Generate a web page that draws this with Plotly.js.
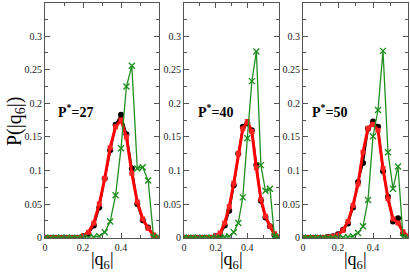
<!DOCTYPE html>
<html><head><meta charset="utf-8">
<script src="https://cdn.plot.ly/plotly-3.0.1.min.js"></script>
<style>html,body{margin:0;padding:0;background:#fff;}#chart{width:410px;height:273px;}</style>
</head><body><div id="chart"></div>
<script>
const q6 = [0, 0.0286, 0.0571, 0.0857, 0.1143, 0.1429, 0.1714, 0.2, 0.2286, 0.2571, 0.2857, 0.3143, 0.3429, 0.3714, 0.4, 0.4286, 0.4571, 0.4857, 0.5143, 0.5429, 0.5714, 0.6];

const black27 = [0,0,0,0,0,0,0,0.002,0.006,0.018,0.045,0.088,0.130,0.168,0.183,0.154,0.103,0.050,0.026,0.015,0.003,0];
const red27   = [0,0,0,0,0,0,0,0.0025,0.008,0.022,0.050,0.088,0.134,0.165,0.175,0.150,0.096,0.053,0.028,0.014,0.004,0];
const green27 = [0,0,0,0,0,0,0,0,0,0.001,0.002,0.008,0.024,0.063,0.133,0.225,0.256,0.103,0.105,0.085,0.001,0.001];

const black40 = [0,0,0,0,0,0,0,0.002,0.004,0.018,0.040,0.078,0.125,0.165,0.170,0.160,0.108,0.055,0.030,0.017,0.004,0];
const red40   = [0,0,0,0,0,0,0,0.003,0.007,0.022,0.046,0.081,0.125,0.162,0.173,0.158,0.104,0.057,0.032,0.017,0.006,0.001];
const green40 = [0,0,0,0,0,0,0,0,0,0.001,0.002,0.008,0.022,0.060,0.148,0.233,0.277,0.108,0.070,0.073,0.002,0];

const black50 = [0,0,0,0,0,0.001,0.002,0.005,0.012,0.021,0.045,0.083,0.111,0.162,0.173,0.165,0.099,0.061,0.024,0.029,0.006,0];
const red50   = [0,0,0,0,0,0.001,0.002,0.004,0.011,0.024,0.048,0.080,0.127,0.163,0.169,0.160,0.103,0.058,0.028,0.022,0.009,0.002];
const green50 = [0,0,0,0,0,0,0,0,0,0.001,0.002,0.007,0.017,0.056,0.151,0.190,0.278,0.127,0.073,0.106,0.001,0];

const panelLabels = ["P<sup>*</sup>=27", "P<sup>*</sup>=40", "P<sup>*</sup>=50"];
const xTickVals = [0, 0.2, 0.4];
const xTickText = ["0", "0.2", "0.4"];
const yTickVals = [0, 0.05, 0.1, 0.15, 0.2, 0.25, 0.3];
const yTickText = ["0", "0.05", "0.1", "0.15", "0.2", "0.25", "0.3"];

const sets = [[black27, red27, green27], [black40, red40, green40], [black50, red50, green50]];
const GREEN = '#1f8f1f';
const traces = [];
sets.forEach((s, k) => {
  const xa = k === 0 ? 'x' : 'x' + (k + 1);
  const ya = k === 0 ? 'y' : 'y' + (k + 1);
  traces.push({x: q6, y: s[0], xaxis: xa, yaxis: ya, mode: 'lines+markers', type: 'scatter',
    line: {color: '#000', width: 2}, marker: {color: '#000', size: 6, symbol: 'circle'}, hoverinfo: 'skip'});
  traces.push({x: q6, y: s[1], xaxis: xa, yaxis: ya, mode: 'lines+markers', type: 'scatter',
    line: {color: '#ff0000', width: 3}, marker: {color: '#ff2020', size: 5, symbol: 'square'}, hoverinfo: 'skip'});
  traces.push({x: q6, y: s[2], xaxis: xa, yaxis: ya, mode: 'lines+markers', type: 'scatter',
    line: {color: GREEN, width: 1.3}, marker: {color: GREEN, size: 6, symbol: 'x-thin-open', line: {color: GREEN, width: 1.4}}, hoverinfo: 'skip'});
});

const W = 410, H = 273;
const xDom = [[45, 159], [184, 279], [303, 408]];
const yDom = [1 - 237.7 / H, 1 - 2.5 / H];
const tickFont = {family: 'Liberation Serif, Times New Roman, serif', size: 10, color: '#222'};
const axisColor = '#555';

const layout = {
  width: W, height: H, margin: {l: 0, r: 0, t: 0, b: 0},
  paper_bgcolor: '#fff', plot_bgcolor: '#fff', showlegend: false,
  annotations: []
};
xDom.forEach((d, k) => {
  const sx = k === 0 ? '' : String(k + 1);
  layout['xaxis' + sx] = {
    domain: [d[0] / W, d[1] / W], range: [0, 0.6], anchor: 'y' + sx,
    tickvals: xTickVals, ticktext: xTickText, ticks: 'inside', ticklen: 5, tickcolor: axisColor,
    minor: {tickvals: [0.1, 0.3, 0.5], ticks: 'inside', ticklen: 3, tickcolor: axisColor},
    showline: true, linecolor: axisColor, linewidth: 1, mirror: 'allticks',
    showgrid: false, zeroline: false, tickfont: tickFont, automargin: false, ticklabelstandoff: 0
  };
  layout['yaxis' + sx] = {
    domain: yDom, range: [0, 0.35], anchor: 'x' + sx,
    tickvals: yTickVals, ticktext: yTickText, ticks: 'inside', ticklen: 5, tickcolor: axisColor,
    minor: {dtick: 0.025, ticks: 'inside', ticklen: 3, tickcolor: axisColor},
    showline: true, linecolor: axisColor, linewidth: 1, mirror: 'allticks',
    showgrid: false, zeroline: false, tickfont: tickFont, automargin: false
  };
  layout.annotations.push({
    text: panelLabels[k], xref: 'x' + sx, yref: 'y' + sx, x: [0.158, 0.196, 0.154][k], y: 0.189,
    xanchor: 'center', yanchor: 'middle', showarrow: false,
    font: {family: 'Liberation Serif, Times New Roman, serif', size: 14, color: '#000', weight: 'bold'}
  });
  layout.annotations.push({
    text: '|q<sub>6</sub>|', xref: 'paper', yref: 'paper', x: (d[0] + d[1]) / 2 / W, y: 0,
    xanchor: 'center', yanchor: 'bottom', showarrow: false, borderpad: 0,
    font: {family: 'Liberation Serif, Times New Roman, serif', size: 18, color: '#000'}
  });
});
layout.annotations.push({
  text: 'P(|q<sub>6</sub>|)', xref: 'paper', yref: 'paper', x: 16 / W, y: 1 - 122 / H,
  xanchor: 'center', yanchor: 'middle', textangle: -90, showarrow: false,
  font: {family: 'Liberation Serif, Times New Roman, serif', size: 20, color: '#000'}
});

Plotly.newPlot('chart', traces, layout, {staticPlot: true, displayModeBar: false});
</script></body></html>
